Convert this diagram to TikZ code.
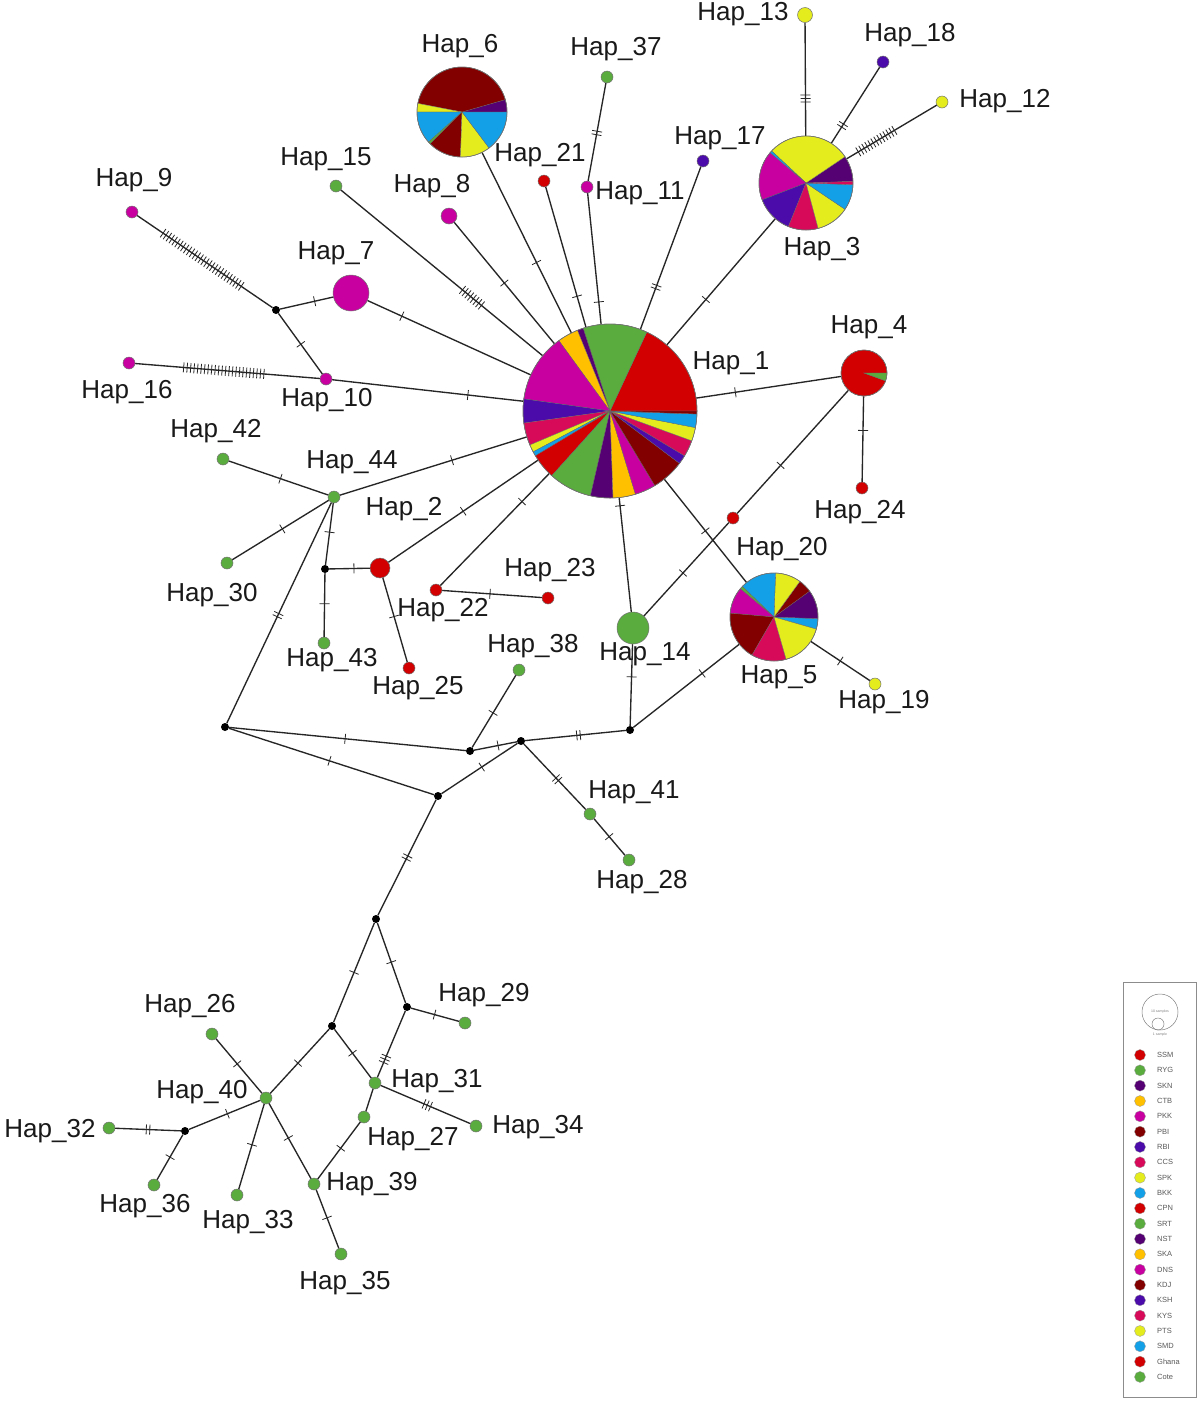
\documentclass[tikz,border=0pt]{standalone}
\usepackage{fontspec}
\setmainfont{Liberation Sans}
\usetikzlibrary{decorations.markings}
\definecolor{sred}{RGB}{210,0,0}
\definecolor{sgreen}{RGB}{90,172,62}
\definecolor{sdpurple}{RGB}{85,0,115}
\definecolor{sorange}{RGB}{255,192,0}
\definecolor{smagenta}{RGB}{200,0,160}
\definecolor{sdred}{RGB}{130,0,0}
\definecolor{sbpurple}{RGB}{75,10,170}
\definecolor{scrimson}{RGB}{215,10,90}
\definecolor{syellow}{RGB}{228,236,30}
\definecolor{sblue}{RGB}{20,160,230}
\newcommand\tkm[2]{\foreach \ii in {1,...,#1}{\draw[line width=0.8pt,black!85] ({(\ii-(#1+1)/2)*#2pt},-5pt) -- ({(\ii-(#1+1)/2)*#2pt},5pt);}}
\newcommand\pieslices[3]{\foreach \sa/\sb/\sc in {#3}{\filldraw[fill=\sc,draw=black!60,line width=0.3pt] (#1.center) -- ++(\sa:#2) arc[start angle=\sa,end angle=\sb,radius=#2] -- cycle;}\draw[black!55,line width=0.5pt] (#1.center) circle[radius=#2];}
\tikzset{
 hap/.style={circle,draw=black!55,line width=0.5pt,inner sep=0pt,minimum size=#1},
 mv/.style={circle,fill=black,inner sep=0pt,minimum size=8},
 edge/.style={line width=1.35pt,black!85},
 lbl/.style={font=\fontsize{26}{28}\selectfont,inner sep=0pt,text=black!90},
 tk/.style 2 args={postaction={decorate,decoration={markings,mark=at position #1 with {\tkm{#2}{3.5}}}}},
 leg/.style={circle,draw=black!40,line width=0.3pt,inner sep=0pt,minimum size=11},
 legt/.style={font=\fontsize{7.5}{8}\selectfont,text=black!65,anchor=west,inner sep=0pt}
}
\begin{document}
\begin{tikzpicture}[x=1pt,y=1pt]
\useasboundingbox (0,0) rectangle (1200,-1401);
\fill[white] (0,0) rectangle (1200,-1401);
% nodes
\node[hap=174] (h1) at (610,-411) {};
\node[hap=20,fill=sred] (h2) at (380,-568) {};
\node[hap=94] (h3) at (806,-183) {};
\node[hap=46] (h4) at (864,-373) {};
\node[hap=88] (h5) at (774,-617) {};
\node[hap=90] (h6) at (462,-112) {};
\node[hap=36,fill=smagenta] (h7) at (351,-293) {};
\node[hap=16,fill=smagenta] (h8) at (449,-216) {};
\node[hap=12,fill=smagenta] (h9) at (132,-212) {};
\node[hap=12,fill=smagenta] (h10) at (326,-379) {};
\node[hap=12,fill=smagenta] (h11) at (587,-187) {};
\node[hap=12,fill=syellow] (h12) at (942,-102) {};
\node[hap=15,fill=syellow] (h13) at (805,-15) {};
\node[hap=32,fill=sgreen] (h14) at (633,-628) {};
\node[hap=12,fill=sgreen] (h15) at (336,-186) {};
\node[hap=12,fill=smagenta] (h16) at (129,-363) {};
\node[hap=12,fill=sbpurple] (h17) at (703,-161) {};
\node[hap=12,fill=sbpurple] (h18) at (883,-62) {};
\node[hap=12,fill=syellow] (h19) at (875,-684) {};
\node[hap=12,fill=sred] (h20) at (733,-518) {};
\node[hap=12,fill=sred] (h21) at (544,-181) {};
\node[hap=12,fill=sred] (h22) at (436,-590) {};
\node[hap=12,fill=sred] (h23) at (548,-598) {};
\node[hap=12,fill=sred] (h24) at (862,-488) {};
\node[hap=12,fill=sred] (h25) at (409,-668) {};
\node[hap=12,fill=sgreen] (h26) at (212,-1034) {};
\node[hap=12,fill=sgreen] (h27) at (364,-1117) {};
\node[hap=12,fill=sgreen] (h28) at (629,-860) {};
\node[hap=12,fill=sgreen] (h29) at (465,-1023) {};
\node[hap=12,fill=sgreen] (h30) at (227,-563) {};
\node[hap=12,fill=sgreen] (h31) at (375,-1083) {};
\node[hap=12,fill=sgreen] (h32) at (109,-1128) {};
\node[hap=12,fill=sgreen] (h33) at (237,-1195) {};
\node[hap=12,fill=sgreen] (h34) at (476,-1126) {};
\node[hap=12,fill=sgreen] (h35) at (341,-1254) {};
\node[hap=12,fill=sgreen] (h36) at (154,-1185) {};
\node[hap=12,fill=sgreen] (h37) at (607,-77) {};
\node[hap=12,fill=sgreen] (h38) at (519,-670) {};
\node[hap=12,fill=sgreen] (h39) at (314,-1184) {};
\node[hap=12,fill=sgreen] (h40) at (266,-1098) {};
\node[hap=12,fill=sgreen] (h41) at (590,-814) {};
\node[hap=12,fill=sgreen] (h42) at (223,-459) {};
\node[hap=12,fill=sgreen] (h43) at (324,-643) {};
\node[hap=12,fill=sgreen] (h44) at (334,-497) {};
% median vectors
\node[mv] (m1) at (276,-310) {};
\node[mv] (m2) at (325,-569) {};
\node[mv] (m3) at (225,-727) {};
\node[mv] (m4) at (470,-751) {};
\node[mv] (m5) at (521,-741) {};
\node[mv] (m6) at (630,-730) {};
\node[mv] (m7) at (438,-796) {};
\node[mv] (m8) at (376,-919) {};
\node[mv] (m9) at (332,-1026) {};
\node[mv] (m10) at (407,-1007) {};
\node[mv] (m11) at (185,-1131) {};
% edges
\draw[edge,tk={0.48}{28}] (h9) -- (m1);
\draw[edge,tk={0.65}{1}] (m1) -- (h7);
\draw[edge,tk={0.51}{1}] (m1) -- (h10);
\draw[edge,tk={0.48}{24}] (h16) -- (h10);
\draw[edge,tk={0.71}{1}] (h10) -- (h1);
\draw[edge,tk={0.21}{1}] (h7) -- (h1);
\draw[edge,tk={0.65}{8}] (h15) -- (h1);
\draw[edge,tk={0.5}{1}] (h8) -- (h1);
\draw[edge,tk={0.61}{1}] (h6) -- (h1);
\draw[edge,tk={0.78}{1}] (h21) -- (h1);
\draw[edge,tk={0.51}{2}] (h37) -- (h11);
\draw[edge,tk={0.83}{1}] (h11) -- (h1);
\draw[edge,tk={0.74}{2}] (h17) -- (h1);
\draw[edge,tk={0.64}{1}] (h3) -- (h1);
\draw[edge,tk={0.67}{3}] (h13) -- (h3);
\draw[edge,tk={0.77}{2}] (h18) -- (h3);
\draw[edge,tk={0.67}{13}] (h12) -- (h3);
\draw[edge,tk={0.73}{1}] (h4) -- (h1);
\draw[edge,tk={0.40}{1}] (h4) -- (h24);
\draw[edge,tk={0.61}{1}] (h4) -- (h20);
\draw[edge,tk={0.54}{1}] (h20) -- (h14);
\draw[edge,tk={0.5}{1}] (h1) -- (h5);
\draw[edge,tk={0.5}{1}] (h5) -- (h19);
\draw[edge,tk={0.07}{1}] (h1) -- (h14);
\draw[edge,tk={0.40}{1}] (h14) -- (m6);
\draw[edge,tk={0.65}{1}] (m6) -- (h5);
\draw[edge,tk={0.47}{2}] (m6) -- (m5);
\draw[edge,tk={0.44}{1}] (m5) -- (m4);
\draw[edge,tk={0.48}{1}] (m4) -- (h38);
\draw[edge,tk={0.54}{2}] (m5) -- (h41);
\draw[edge,tk={0.49}{1}] (h41) -- (h28);
\draw[edge,tk={0.49}{1}] (m3) -- (m4);
\draw[edge,tk={0.49}{1}] (m3) -- (m7);
\draw[edge,tk={0.53}{1}] (m7) -- (m5);
\draw[edge,tk={0.49}{2}] (m3) -- (h44);
\draw[edge,tk={0.6}{1}] (h44) -- (h1);
\draw[edge,tk={0.52}{1}] (h42) -- (h44);
\draw[edge,tk={0.52}{1}] (h30) -- (h44);
\draw[edge,tk={0.47}{1}] (h44) -- (m2);
\draw[edge,tk={0.48}{1}] (m2) -- (h43);
\draw[edge,tk={0.61}{1}] (m2) -- (h2);
\draw[edge,tk={0.46}{1}] (h2) -- (h25);
\draw[edge,tk={0.5}{1}] (h2) -- (h1);
\draw[edge,tk={0.75}{1}] (h22) -- (h1);
\draw[edge,tk={0.48}{1}] (h22) -- (h23);
\draw[edge,tk={0.50}{2}] (m7) -- (m8);
\draw[edge,tk={0.50}{1}] (m8) -- (m9);
\draw[edge,tk={0.49}{1}] (m8) -- (m10);
\draw[edge,tk={0.49}{1}] (m10) -- (h29);
\draw[edge,tk={0.73}{3}] (m10) -- (h31);
\draw[edge,tk={0.49}{1}] (m9) -- (h31);
\draw[edge,tk={0.53}{1}] (m9) -- (h40);
\draw[edge,tk={0.52}{3}] (h31) -- (h34);
\draw[edge] (h31) -- (h27);
\draw[edge,tk={0.46}{1}] (h27) -- (h39);
\draw[edge,tk={0.46}{1}] (h40) -- (h39);
\draw[edge,tk={0.48}{1}] (h39) -- (h35);
\draw[edge,tk={0.54}{1}] (h40) -- (h26);
\draw[edge,tk={0.46}{1}] (h40) -- (m11);
\draw[edge,tk={0.5}{2}] (m11) -- (h32);
\draw[edge,tk={0.5}{1}] (m11) -- (h36);
\draw[edge,tk={0.48}{1}] (h40) -- (h33);
% pies
\pieslices{h1}{87}{0/65/sred,65/108/sgreen,108/112/sdpurple,112/126/sorange,126/172/smagenta,172/188/sbpurple,188/203/scrimson,203/208/syellow,208/211/sblue,211/228/sred,228/257/sgreen,257/272/sdpurple,272/287/sorange,287/301/smagenta,301/323/sdred,323/329/sbpurple,329/340/scrimson,340/349/syellow,349/358/sblue,358/360/sdred}
\pieslices{h3}{47}{2/34/sdpurple,34/137/syellow,137/140/sblue,140/201/smagenta,201/248/sbpurple,248/285/scrimson,285/326/syellow,326/358/sblue,358/362/scrimson}
\pieslices{h4}{23}{0/340/sred,340/360/sgreen}
\pieslices{h5}{44}{-16/-2/sblue,-2/36/sdpurple,36/54/sdred,54/88/syellow,88/136/sblue,136/140/sgreen,140/175/smagenta,175/240/sdred,240/286/scrimson,286/344/syellow}
\pieslices{h6}{45}{0/16/sdpurple,16/169/sdred,169/180/syellow,180/222/sblue,222/225/sgreen,225/268/sdred,268/307/syellow,307/360/sblue}
% labels
\node[lbl] (l1) at (731,-363) {Hap\_1};
\node[lbl] (l2) at (404,-509) {Hap\_2};
\node[lbl] (l3) at (822,-249) {Hap\_3};
\node[lbl] (l4) at (869,-327) {Hap\_4};
\node[lbl] (l5) at (779,-677) {Hap\_5};
\node[lbl] (l6) at (460,-46) {Hap\_6};
\node[lbl] (l7) at (336,-253) {Hap\_7};
\node[lbl] (l8) at (432,-186) {Hap\_8};
\node[lbl] (l9) at (134,-180) {Hap\_9};
\node[lbl] (l10) at (327,-400) {Hap\_10};
\node[lbl] (l11) at (640,-193) {Hap\_11};
\node[lbl] (l12) at (1005,-101) {Hap\_12};
\node[lbl] (l13) at (743,-14) {Hap\_13};
\node[lbl] (l14) at (645,-654) {Hap\_14};
\node[lbl] (l15) at (326,-159) {Hap\_15};
\node[lbl] (l16) at (127,-392) {Hap\_16};
\node[lbl] (l17) at (720,-138) {Hap\_17};
\node[lbl] (l18) at (910,-35) {Hap\_18};
\node[lbl] (l19) at (884,-702) {Hap\_19};
\node[lbl] (l20) at (782,-549) {Hap\_20};
\node[lbl] (l21) at (540,-155) {Hap\_21};
\node[lbl] (l22) at (443,-610) {Hap\_22};
\node[lbl] (l23) at (550,-570) {Hap\_23};
\node[lbl] (l24) at (860,-512) {Hap\_24};
\node[lbl] (l25) at (418,-688) {Hap\_25};
\node[lbl] (l26) at (190,-1006) {Hap\_26};
\node[lbl] (l27) at (413,-1139) {Hap\_27};
\node[lbl] (l28) at (642,-882) {Hap\_28};
\node[lbl] (l29) at (484,-995) {Hap\_29};
\node[lbl] (l30) at (212,-595) {Hap\_30};
\node[lbl] (l31) at (437,-1081) {Hap\_31};
\node[lbl] (l32) at (50,-1131) {Hap\_32};
\node[lbl] (l33) at (248,-1222) {Hap\_33};
\node[lbl] (l34) at (538,-1127) {Hap\_34};
\node[lbl] (l35) at (345,-1283) {Hap\_35};
\node[lbl] (l36) at (145,-1206) {Hap\_36};
\node[lbl] (l37) at (616,-49) {Hap\_37};
\node[lbl] (l38) at (533,-646) {Hap\_38};
\node[lbl] (l39) at (372,-1184) {Hap\_39};
\node[lbl] (l40) at (202,-1092) {Hap\_40};
\node[lbl] (l41) at (634,-792) {Hap\_41};
\node[lbl] (l42) at (216,-431) {Hap\_42};
\node[lbl] (l43) at (332,-660) {Hap\_43};
\node[lbl] (l44) at (352,-462) {Hap\_44};
% legend
\node[draw=black!45,line width=0.6pt,minimum width=73,minimum height=415,inner sep=0pt] (lg) at (1159.5,-1189.5) {};
\node[circle,draw=black!50,line width=0.5pt,minimum size=36,inner sep=0pt] (lc1) at (1160,-1012) {};
\node[font=\fontsize{3.5}{4}\selectfont,text=black!50,inner sep=0pt] (lc1t) at (1160,-1012) {10 samples};
\node[circle,draw=black!50,line width=0.5pt,minimum size=12,inner sep=0pt] (lc2) at (1158,-1024) {};
\node[font=\fontsize{3.5}{4}\selectfont,text=black!50,inner sep=0pt] (lc2t) at (1160,-1035) {1 sample};
\foreach \nm/\cl [count=\n] in {SSM/sred,RYG/sgreen,SKN/sdpurple,CTB/sorange,PKK/smagenta,PBI/sdred,RBI/sbpurple,CCS/scrimson,SPK/syellow,BKK/sblue,CPN/sred,SRT/sgreen,NST/sdpurple,SKA/sorange,DNS/smagenta,KDJ/sdred,KSH/sbpurple,KYS/scrimson,PTS/syellow,SMD/sblue,Ghana/sred,Cote/sgreen}{
 \node[leg,fill=\cl] (ld\n) at (1140,{-1055-(\n-1)*15.33}) {};
 \node[legt] (lt\n) at (1157,{-1055-(\n-1)*15.33}) {\nm};
}
\end{tikzpicture}
\end{document}
